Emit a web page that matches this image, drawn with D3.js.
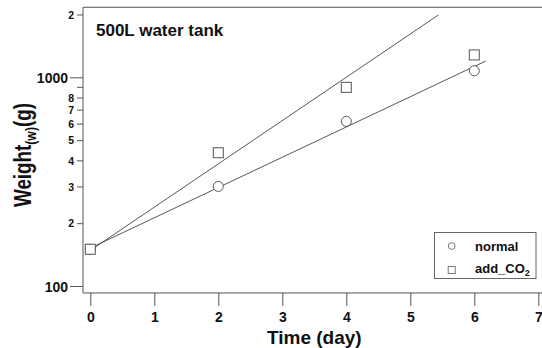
<!DOCTYPE html>
<html><head><meta charset="utf-8">
<script src="https://cdn.jsdelivr.net/npm/d3@7"></script>
<style>body{margin:0;background:#fff}svg{display:block}</style>
</head><body><svg id="c" width="542" height="348"></svg>
<script>
// ---- data ----
const days = [0, 2, 4, 6];
const normalWeights = [150, 300, 615, 1075];
const co2Weights = [150, 435, 895, 1280];
const fitNormalDays = [0, 6.18];
const fitNormalWeights = [152, 1197];
const fitCO2Days = [0, 5.44];
const fitCO2Weights = [148, 1990];
const xTicks = [0, 1, 2, 3, 4, 5, 6, 7];
const yTicks = [100, 200, 300, 400, 500, 600, 700, 800, 900, 1000, 2000];
const yTickLabels = ["100", "2", "3", "4", "5", "6", "7", "8", "", "1000", "2"];
const yMajor = [100, 1000];
const seriesNames = ["normal", "add_CO"];

const svg = d3.select("#c");
const FONT = "'Liberation Sans', Arial, sans-serif";
const ink = "#555";

const x = d3.scaleLinear().domain([0, 7]).range([90.3, 538.3]);
const y = d3.scaleLog().domain([100, 1000]).range([286, 77.3]);

const fL = x(-0.114), fT = y(2165), fB = y(92.6), fR = 546;

// frame (open on the right)
svg.append("path")
  .attr("d", `M${fR},${fT}H${fL}V${fB}H${fR}`)
  .attr("fill", "none").attr("stroke", ink).attr("stroke-width", 1);

// x axis
const gx = svg.append("g").attr("transform", `translate(0,${fB})`)
  .call(d3.axisBottom(x).tickValues(xTicks).tickSize(13).tickFormat(d3.format("d")));
gx.select(".domain").remove();
gx.selectAll(".tick line").attr("stroke", ink);
gx.selectAll(".tick text").attr("y", 29.5).attr("dy", null)
  .attr("font-family", FONT).attr("font-size", 14).attr("font-weight", "bold").attr("fill", "#111");

// y axis
const gy = svg.append("g").attr("transform", `translate(${fL},0)`)
  .call(d3.axisLeft(y).tickValues(yTicks).tickFormat((d, i) => yTickLabels[i]));
gy.select(".domain").remove();
gy.selectAll(".tick line").attr("stroke", ink)
  .attr("x2", d => yMajor.includes(d) ? -13 : -6);
gy.selectAll(".tick text")
  .attr("x", d => yMajor.includes(d) ? -15 : -9)
  .attr("dy", "0.36em")
  .attr("font-family", FONT).attr("fill", "#111").attr("font-weight", "bold")
  .attr("font-size", d => yMajor.includes(d) ? 14 : 10.5);

// fit lines
const line = d3.line().x(d => x(d[0])).y(d => y(d[1]));
svg.append("path").datum(d3.zip(fitNormalDays, fitNormalWeights))
  .attr("d", line).attr("fill", "none").attr("stroke", "#444").attr("stroke-width", 0.9);
svg.append("path").datum(d3.zip(fitCO2Days, fitCO2Weights))
  .attr("d", line).attr("fill", "none").attr("stroke", "#444").attr("stroke-width", 0.9);

// markers
svg.append("g").selectAll("circle").data(d3.zip(days, normalWeights)).join("circle")
  .attr("cx", d => x(d[0])).attr("cy", d => y(d[1])).attr("r", 5)
  .attr("fill", "#fff").attr("stroke", ink).attr("stroke-width", 1);
svg.append("g").selectAll("rect").data(d3.zip(days, co2Weights)).join("rect")
  .attr("x", d => x(d[0]) - 5).attr("y", d => y(d[1]) - 5).attr("width", 10).attr("height", 10)
  .attr("fill", "#fff").attr("stroke", ink).attr("stroke-width", 1);

// title
svg.append("text").attr("x", 96).attr("y", 36).text("500L water tank")
  .attr("font-family", FONT).attr("font-size", 17).attr("font-weight", "bold").attr("fill", "#111");

// axis titles
svg.append("text").attr("x", (x(0) + x(7)) / 2).attr("y", 343.5).attr("text-anchor", "middle")
  .text("Time (day)").attr("font-family", FONT).attr("font-size", 19).attr("font-weight", "bold").attr("fill", "#111");

const yt = svg.append("text").attr("transform", "translate(30.5,155) rotate(-90)")
  .attr("text-anchor", "middle").attr("font-family", FONT).attr("font-weight", "bold")
  .attr("font-size", 23).attr("fill", "#111")
  .attr("textLength", 104).attr("lengthAdjust", "spacingAndGlyphs");
yt.append("tspan").text("Weight");
yt.append("tspan").attr("font-size", 15).attr("dy", 5).text("(w)");
yt.append("tspan").attr("dy", -5).text("(g)");

// legend
const lg = svg.append("g");
lg.append("rect").attr("x", 434.5).attr("y", 232.5).attr("width", 101.5).attr("height", 46)
  .attr("fill", "#fff").attr("stroke", "#666").attr("stroke-width", 1);
lg.append("circle").attr("cx", 451.7).attr("cy", 246).attr("r", 3.4)
  .attr("fill", "#fff").attr("stroke", "#777");
lg.append("rect").attr("x", 448.2).attr("y", 266.5).attr("width", 7).attr("height", 7)
  .attr("fill", "#fff").attr("stroke", "#777");
lg.append("text").attr("x", 475).attr("y", 250.5).text(seriesNames[0])
  .attr("font-family", FONT).attr("font-size", 13).attr("font-weight", "bold").attr("fill", "#111");
const l2 = lg.append("text").attr("x", 475).attr("y", 273)
  .attr("font-family", FONT).attr("font-size", 13).attr("font-weight", "bold").attr("fill", "#111");
l2.append("tspan").text(seriesNames[1]);
l2.append("tspan").attr("font-size", 9).attr("dy", 3).text("2");
</script></body></html>
